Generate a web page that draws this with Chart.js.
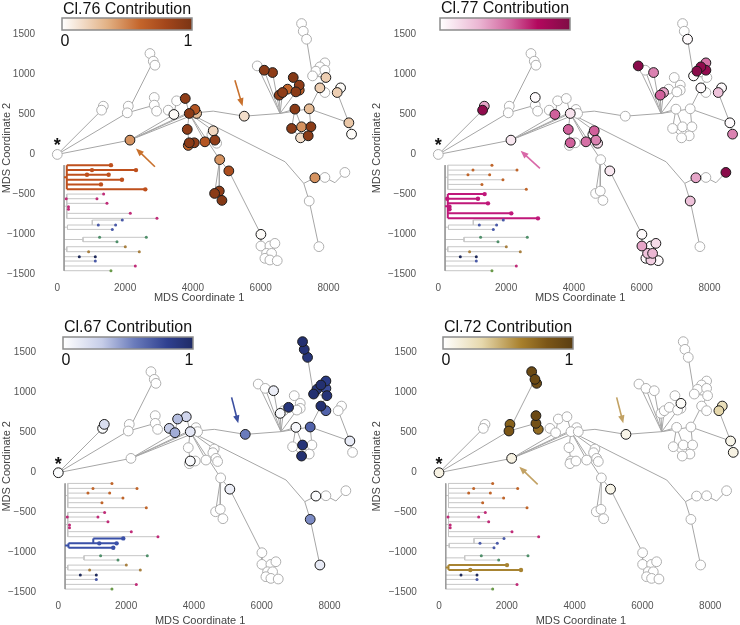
<!DOCTYPE html>
<html>
<head>
<meta charset="utf-8">
<script src="https://cdn.jsdelivr.net/npm/chart.js@4"></script>
<style>
  html, body { margin: 0; padding: 0; background: #fff; overflow: hidden; }
  canvas { position: absolute; }
</style>
</head>
<body>
<canvas id="p76" width="370" height="305" style="left:0;top:0"></canvas>
<canvas id="p77" width="370" height="305" style="left:370px;top:0"></canvas>
<canvas id="p67" width="370" height="318" style="left:0;top:310px"></canvas>
<canvas id="p72" width="370" height="318" style="left:370px;top:310px"></canvas>
<script>
const FONT = '"Liberation Sans", Arial, sans-serif';

// axes
const xTicks = [0, 2000, 4000, 6000, 8000];
const xTickLabels = ['0', '2000', '4000', '6000', '8000'];
const yTicks = [-1500, -1000, -500, 0, 500, 1000, 1500];
const yTickLabels = ['\u22121500', '\u22121000', '\u2212500', '0', '500', '1000', '1500'];

// MDS node positions (same tree in every panel)
const nodeX = [
  0, 1357, 1307, 2094, 2064, 2733, 2831, 2880, 2860, 2860,
  2929, 2143, 3519, 3273, 3440, 3775, 4060, 3893, 4109, 3834,
  3893, 3863, 4040, 4355, 4600, 4560, 4650, 4700, 4790, 5060,
  4640, 4778, 4856, 5515, 7205, 7255, 7353, 5898, 6104, 6350,
  6960, 6547, 6645, 6793, 7137, 7137, 7038, 7009, 7431, 6911,
  7205, 7481, 7402, 7176, 7894, 7746, 7628, 7530, 7894, 7923,
  7746, 7894, 8356, 8257, 8601, 8680, 7598, 7894, 8483, 7431,
  7717, 6006, 6006, 6271, 6419, 6173, 6321, 6124, 6271, 6488
];
const nodeY = [
  0, 604, 554, 604, 521, 1263, 1167, 1117, 713, 617,
  542, 179, 671, 554, 500, 700, 563, 513, 513, 313,
  146, 113, 146, 158, 296, 250, 179, 140, -65, -206,
  -488, -458, -575, 479, 1638, 1542, 1442, 1108, 1054, 1025,
  963, 742, 775, 817, 867, 804, 783, 567, 571, 325,
  346, 346, 233, 208, 1146, 1096, 1042, 983, 1054, 963,
  833, 775, 833, 775, 396, 254, -292, -288, -225, -583,
  -1154, -1000, -1146, -1146, -1113, -1238, -1238, -1300, -1321, -1329
];
// branch points without a node (referenced as 100+)
const junctionX = [4600, 6570, 6720, 7270, 8190];
const junctionY = [542, 513, -92, -362, -354];

const edges = [
  [0,2],[1,2],[0,4],[3,4],[4,6],[5,6],[6,7],[4,9],[8,9],[9,10],
  [0,11],[11,14],[11,17],[11,18],[11,16],
  [12,14],[13,14],[15,17],[16,17],[18,17],[17,19],[19,20],[20,21],[21,22],
  [17,23],[17,24],[24,25],[24,26],[26,27],
  [17,28],[28,30],[28,31],[31,32],[28,29],[29,71],
  [71,72],[72,73],[73,74],[72,75],[75,77],[73,76],[76,79],[77,78],
  [17,100],[100,33],[33,101],
  [17,102],[102,103],[103,69],[69,70],[103,66],[66,67],[67,104],[104,68],
  [101,37],[101,38],[101,39],[101,41],[101,42],[42,43],[101,46],[46,45],[45,44],[40,44],
  [101,47],[47,49],[49,53],[47,50],[50,52],[51,52],[101,48],[48,51],[48,64],
  [48,60],[60,61],[60,59],[59,57],[57,56],[56,55],[55,54],[56,58],[57,36],[36,35],[35,34],
  [62,63],[63,64],[64,65]
];

// contribution of each cluster per node
const cl76 = [
  0,0,0,0,0,0,0,0,0,0,
  0,0.45,0,0,0.02,0.9,0.7,0.92,0.3,0.9,
  0.92,0.6,0.9,0.7,0.18,0,0.9,0,0.45,0.75,
  0.92,0.9,0.95,0.15,0,0,0,0,0.92,0.9,
  0.95,0.9,0.9,0.6,0.9,0.65,0.92,0.92,0.3,0.92,
  0.45,0.92,0.92,0.15,0,0,0,0,0,0.22,
  0.22,0,0.02,0.22,0.25,0.02,0.45,0,0,0,
  0,0.02,0,0,0,0,0,0,0,0
];
const cl77 = [
  0,0.35,0.92,0,0,0,0,0,0.02,0,
  0,0.1,0,0,0.55,0,0,0.12,0,0.55,
  0.55,0,0,0.5,0.55,0.02,0.45,0.15,0,0.1,
  0,0,0,0,0,0,0.02,0.95,0,0.45,
  0,0.55,0.35,0,0,0,0,0,0,0,
  0,0,0,0,0.5,0.92,0.95,0.02,0.9,0,
  0.02,0,0.02,0.25,0.02,0.45,0.35,0,0.95,0.25,
  0,0.02,0.35,0.02,0.15,0.25,0.3,0.02,0.2,0.02
];
const cl67 = [
  0.02,0.2,0.02,0,0,0,0,0,0,0,
  0,0,0.35,0.3,0.4,0.25,0,0.15,0,0,
  0.03,0,0,0,0,0,0,0,0,0.1,
  0,0,0,0.55,0.95,0.92,0.9,0,0,0.1,
  0,0.03,0,0.9,0,0,0,0.05,0.65,0,
  0.92,0,0,0.95,0.85,0.95,0.9,0.95,0.75,0.92,
  0.95,0.65,0,0,0.12,0,0.02,0,0,0.5,
  0.12,0,0,0,0,0,0,0,0,0
];
const cl72 = [
  0.1,0,0,0.75,0.8,0.9,0.9,0.88,0.9,0.85,
  0.7,0.1,0,0,0,0,0,0,0,0,
  0,0,0,0,0,0,0,0,0,0.08,
  0,0,0,0.08,0,0,0,0,0,0,
  0,0,0,0,0.02,0,0,0,0,0,
  0,0,0,0,0,0,0,0,0,0,
  0,0,0.25,0.3,0.08,0.1,0,0,0,0,
  0,0,0,0,0,0,0,0,0,0
];

// dendrogram inset (leaves)
const leafY  = [-134,-196,-255,-317,-375,-437, -496,-554,-612,-654,-687,-737,-800, -821,-883,-938, -1037,-1092, -1155,-1217, -1280,-1334,-1396,-1455];
const leafX0 = [280,280,280,280,280,280, 280,280,280,280,280,280,280, 1032,300,300, 758,758, 280,280, 200,200,200,200];
const leafX1 = [1583,2321,1515,1907,1288,2596, 1367,1170,1465,330,330,2153,2940, 1917,1720,1622, 2625,1761, 2006,2419, 1121,1121,2301,1583];
const leafMid = [null,1023,875,null,null,null, null,265,null,null,null,null,null, null,1209,null, 1248,null, null,924, 649,null,null,null];
const leafGroup = [0,0,0,0,0,0, 1,1,1,1,1,1,1, 2,2,2, 3,3, 4,4, 5,5,5,5];
const leafDotColor = ['#c0652a','#c0652a','#c0652a','#c0652a','#c0652a','#c0652a',
  '#c02c78','#c02c78','#c02c78','#c02c78','#c02c78','#c02c78','#c02c78',
  '#4a5aa8','#4a5aa8','#4a5aa8', '#4f8f6a','#4f8f6a', '#a88040','#a88040',
  '#1f2a5a','#4a5aa8','#c02c78','#6a9a4a'];
const groupSpineX = [280, 280, 300, 758, 280, 200];

// arrows [x0, y0, x1, y1] in MDS units
const arrows76 = [[5239, 929, 5466, 604], [2880, -154, 2320, 75]];
const arrows77 = [[2998, -175, 2428, 46]];
const arrows67 = [[5112, 942, 5308, 617]];
const arrows72 = [[5240, 942, 5436, 617], [2910, -146, 2369, 75]];

const cmap76 = [[0, '#ffffff'], [0.35, '#e2b184'], [0.6, '#c4652b'], [0.8, '#a3461b'], [1, '#7a3414']];
const cmap77 = [[0, '#ffffff'], [0.3, '#ebb6d3'], [0.55, '#d0609b'], [0.75, '#b3085e'], [1, '#7f0c45']];
const cmap67 = [[0, '#ffffff'], [0.3, '#c6cde8'], [0.55, '#6a7bbb'], [0.8, '#2f4090'], [1, '#1f2b66']];
const cmap72 = [[0, '#ffffff'], [0.3, '#e6d8ac'], [0.6, '#a8802c'], [0.8, '#7b5617'], [1, '#5a3e12']];

const xMin = -330, xMax = 8700, yMin = -1560, yMax = 1720;
const pxX = 0.0339, pxY = 0.08;

const panels = [
  { canvas: 'p76', title: 'Cl.76 Contribution', values: cl76, cmap: cmap76, arrows: arrows76,
    arrowColor: '#c8702c', hiColor: '#bf501d', hiGroup: 0,
    x0: 57.3, y0: 154.3, bar: [62, 18, 130, 12], titleY: 10, labelY: 42, showLabels: true },
  { canvas: 'p77', title: 'Cl.77 Contribution', values: cl77, cmap: cmap77, arrows: arrows77,
    arrowColor: '#d968a8', hiColor: '#c0187a', hiGroup: 1,
    x0: 68.3, y0: 154.3, bar: [70, 18, 130, 12], titleY: 9, labelY: 42, showLabels: false },
  { canvas: 'p67', title: 'Cl.67 Contribution', values: cl67, cmap: cmap67, arrows: arrows67,
    arrowColor: '#3b4fa0', hiColor: '#3a50a8', hiGroup: 2,
    x0: 58.3, y0: 162.7, bar: [63, 27, 130, 12], titleY: 18, labelY: 51, showLabels: true },
  { canvas: 'p72', title: 'Cl.72 Contribution', values: cl72, cmap: cmap72, arrows: arrows72,
    arrowColor: '#c2a264', hiColor: '#a88432', hiGroup: 4,
    x0: 69, y0: 162.7, bar: [73, 27, 130, 12], titleY: 18, labelY: 51, showLabels: true }
];

function hexRgb(h) {
  return [parseInt(h.slice(1, 3), 16), parseInt(h.slice(3, 5), 16), parseInt(h.slice(5, 7), 16)];
}
function colorAt(stops, v) {
  for (let i = 1; i < stops.length; i++) {
    if (v <= stops[i][0]) {
      const t = (v - stops[i - 1][0]) / (stops[i][0] - stops[i - 1][0]);
      const a = hexRgb(stops[i - 1][1]), b = hexRgb(stops[i][1]);
      const c = a.map((q, k) => Math.round(q + (b[k] - q) * t));
      return `rgb(${c[0]},${c[1]},${c[2]})`;
    }
  }
  return stops[stops.length - 1][1];
}
function pt(i) {
  return i >= 100 ? { x: junctionX[i - 100], y: junctionY[i - 100] } : { x: nodeX[i], y: nodeY[i] };
}
function seg(arr, x0, y0, x1, y1) {
  arr.push({ x: x0, y: y0 }, { x: x1, y: y1 }, { x: null, y: null });
}

function dendroLines(keep) {
  // leaf lines + spines of the groups for which keep(g) is true
  const out = [];
  for (let g = 0; g < 6; g++) {
    if (!keep(g)) continue;
    const idx = leafGroup.map((q, i) => q === g ? i : -1).filter(i => i >= 0);
    const onSpine = idx.filter(i => leafX0[i] === groupSpineX[g]);
    const ys = onSpine.map(i => leafY[i]);
    const top = Math.max(...ys), bot = Math.min(...ys);
    if (g < 5) seg(out, groupSpineX[g], top, groupSpineX[g], bot);
    if (groupSpineX[g] > 200) seg(out, 200, (top + bot) / 2, groupSpineX[g], (top + bot) / 2);
    idx.forEach((i, k) => {
      seg(out, leafX0[i], leafY[i], leafX1[i], leafY[i]);
      if (leafX0[i] !== groupSpineX[g] && k + 1 < idx.length) {
        seg(out, leafX0[i], leafY[i], leafX0[i], leafY[idx[k + 1]]);
      }
    });
  }
  return out;
}

function makePanel(p) {
  const cv = document.getElementById(p.canvas);
  const W = cv.width, H = cv.height;
  const left = p.x0 + xMin * pxX, right = p.x0 + xMax * pxX;
  const top = p.y0 - yMax * pxY, bottom = p.y0 - yMin * pxY;

  // nodes, low contribution drawn first
  const order = nodeX.map((_, i) => i).sort((a, b) => p.values[a] - p.values[b]);
  const nodes = {
    data: order.map(i => ({ x: nodeX[i], y: nodeY[i] })),
    pointRadius: 4.9, pointHoverRadius: 4.9, pointBorderWidth: 1,
    pointBackgroundColor: order.map(i => colorAt(p.cmap, p.values[i])),
    pointBorderColor: order.map(i => p.values[i] > 0 ? '#1a1a1a' : '#aeaeae'),
    order: 0, clip: false
  };

  const edgeData = [];
  edges.forEach(([a, b]) => { const A = pt(a), B = pt(b); seg(edgeData, A.x, A.y, B.x, B.y); });

  const spine = [];
  seg(spine, 200, leafY[0], 200, leafY[leafY.length - 1]);

  const dots = [], dotCol = [], dotR = [];
  leafY.forEach((y, i) => {
    const hi = leafGroup[i] === p.hiGroup;
    const c = hi ? p.hiColor : leafDotColor[i];
    dots.push({ x: leafX1[i], y }); dotCol.push(c); dotR.push(hi ? 2.2 : 1.5);
    if (leafMid[i] !== null) { dots.push({ x: leafMid[i], y }); dotCol.push(c); dotR.push(hi ? 2.2 : 1.5); }
  });

  const lineDs = (data, color, width, ord) => ({
    data, showLine: true, borderColor: color, borderWidth: width, pointRadius: 0,
    pointHoverRadius: 0, spanGaps: false, order: ord, clip: false
  });

  const datasets = [
    nodes,
    { data: dots, pointRadius: dotR, pointHoverRadius: dotR, pointBackgroundColor: dotCol,
      pointBorderWidth: 0, order: 1, clip: false },
    lineDs(dendroLines(g => g === p.hiGroup), p.hiColor, 2, 2),
    lineDs(spine, '#9a9a9a', 1, 3),
    lineDs(dendroLines(g => g !== p.hiGroup), '#c6c6c6', 1, 4),
    lineDs(edgeData, '#a6a6a6', 1, 5)
  ];

  const decor = {
    id: 'decor' + p.canvas,
    afterDatasetsDraw(chart) {
      const ctx = chart.ctx, xs = chart.scales.x, ys = chart.scales.y;
      ctx.save();
      p.arrows.forEach(([ax0, ay0, ax1, ay1]) => {
        const x0 = xs.getPixelForValue(ax0), y0 = ys.getPixelForValue(ay0);
        const x1 = xs.getPixelForValue(ax1), y1 = ys.getPixelForValue(ay1);
        const ang = Math.atan2(y1 - y0, x1 - x0);
        ctx.strokeStyle = p.arrowColor; ctx.fillStyle = p.arrowColor; ctx.lineWidth = 1.6;
        ctx.beginPath();
        ctx.moveTo(x0, y0);
        ctx.lineTo(x1 - 5 * Math.cos(ang), y1 - 5 * Math.sin(ang));
        ctx.stroke();
        ctx.beginPath();
        ctx.moveTo(x1, y1);
        ctx.lineTo(x1 - 8 * Math.cos(ang) + 3.2 * Math.sin(ang), y1 - 8 * Math.sin(ang) - 3.2 * Math.cos(ang));
        ctx.lineTo(x1 - 8 * Math.cos(ang) - 3.2 * Math.sin(ang), y1 - 8 * Math.sin(ang) + 3.2 * Math.cos(ang));
        ctx.closePath();
        ctx.fill();
      });
      // root marker
      const rx = xs.getPixelForValue(nodeX[0]), ry = ys.getPixelForValue(nodeY[0]);
      ctx.fillStyle = '#111';
      ctx.font = 'bold 18px ' + FONT;
      ctx.textAlign = 'center';
      ctx.textBaseline = 'alphabetic';
      ctx.fillText('*', rx, ry - 3);
      ctx.restore();
    },
    afterDraw(chart) {
      const ctx = chart.ctx;
      const [bx, by, bw, bh] = p.bar;
      ctx.save();
      ctx.fillStyle = '#111';
      ctx.font = '16px ' + FONT;
      ctx.textAlign = 'center';
      ctx.textBaseline = 'middle';
      ctx.fillText(p.title, bx + bw / 2, p.titleY);
      const grad = ctx.createLinearGradient(bx, 0, bx + bw, 0);
      p.cmap.forEach(([s, c]) => grad.addColorStop(s, c));
      ctx.fillStyle = grad;
      ctx.fillRect(bx, by, bw, bh);
      ctx.strokeStyle = '#8c8c8c';
      ctx.lineWidth = 1.5;
      ctx.strokeRect(bx, by, bw, bh);
      if (p.showLabels) {
        ctx.fillStyle = '#111';
        ctx.fillText('0', bx + 3, p.labelY);
        ctx.fillText('1', bx + bw - 4, p.labelY);
      }
      ctx.restore();
    }
  };

  new Chart(cv, {
    type: 'scatter',
    data: { datasets },
    options: {
      responsive: false,
      animation: false,
      events: [],
      layout: { padding: { top: top, right: W - right, left: 0, bottom: 0 } },
      plugins: { legend: { display: false }, tooltip: { enabled: false } },
      scales: {
        x: {
          type: 'linear', min: xMin, max: xMax,
          grid: { display: false, drawTicks: false }, border: { display: false },
          afterBuildTicks: s => { s.ticks = xTicks.map(v => ({ value: v })); },
          afterFit: s => { s.height = H - bottom; },
          ticks: { color: '#555', padding: 3, maxRotation: 0, autoSkip: false,
                   font: { family: FONT, size: 10 }, callback: (v, i) => xTickLabels[i] },
          title: { display: true, text: 'MDS Coordinate 1', color: '#444',
                   font: { family: FONT, size: 11 }, padding: { top: 0, bottom: 0 } }
        },
        y: {
          type: 'linear', min: yMin, max: yMax,
          grid: { display: false, drawTicks: false }, border: { display: false },
          afterBuildTicks: s => { s.ticks = yTicks.map(v => ({ value: v })); },
          afterFit: s => { s.width = left; },
          ticks: { color: '#555', padding: 11, autoSkip: false,
                   font: { family: FONT, size: 10 }, callback: (v, i) => yTickLabels[i] },
          title: { display: true, text: 'MDS Coordinate 2', color: '#444',
                   font: { family: FONT, size: 11 }, padding: { top: 0, bottom: 0 } }
        }
      }
    },
    plugins: [decor]
  });
}

panels.forEach(makePanel);
</script>
</body>
</html>
